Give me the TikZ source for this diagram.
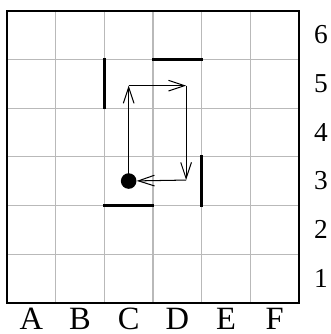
\documentclass[tikz,border=0pt]{standalone}
\usepackage{fontspec}
\setmainfont{Liberation Serif}
\usepackage{tikz}
\usetikzlibrary{arrows.meta,positioning}

\begin{document}
\begin{tikzpicture}[x=1cm, y=1cm,
    wall/.style={line width=1.6pt, line cap=rect},
    move/.style={line width=0.6pt, -{Straight Barb[length=3.3mm, width=2.2mm]}},
    colname/.style={anchor=base, inner sep=0pt, font=\fontsize{19}{19}\selectfont},
    rowname/.style={inner sep=0pt, font=\fontsize{16}{16}\selectfont}]
    \useasboundingbox (-0.144,-0.643) rectangle (6.637,6.22);

    % Board grid
    \draw[gray!55, line width=0.6pt] (0,0) grid (6,6);
    \draw[line width=1.3pt] (0,0) rectangle (6,6);

    % Column and row labels
    \foreach \c [count=\i] in {A,B,C,D,E,F} {
        \node[colname] (col\c) at (\i-0.5, -0.56) {\c};
    }
    \foreach \r in {1,...,6} {
        \node[rowname] (row\r) at (6.45, \r-0.5) {\r};
    }

    % Walls
    \draw[wall] (2,4) -- (2,5);
    \draw[wall] (3,5) -- (4,5);
    \draw[wall] (4,2) -- (4,3);
    \draw[wall] (2,2) -- (3,2);

    % Robot and its route
    \node[circle, fill=black, inner sep=0pt, minimum size=3.2mm] (robot) at (2.5,2.5) {};
    \coordinate (up) at (2.5,4.46);
    \coordinate (right) at (3.68,4.46);
    \coordinate (down) at (3.68,2.52);
    \draw[move] (robot.center) -- (up);
    \draw[move] (up) -- (right);
    \draw[move] (right) -- (down);
    \draw[move] (down) -- (robot);
\end{tikzpicture}
\end{document}
